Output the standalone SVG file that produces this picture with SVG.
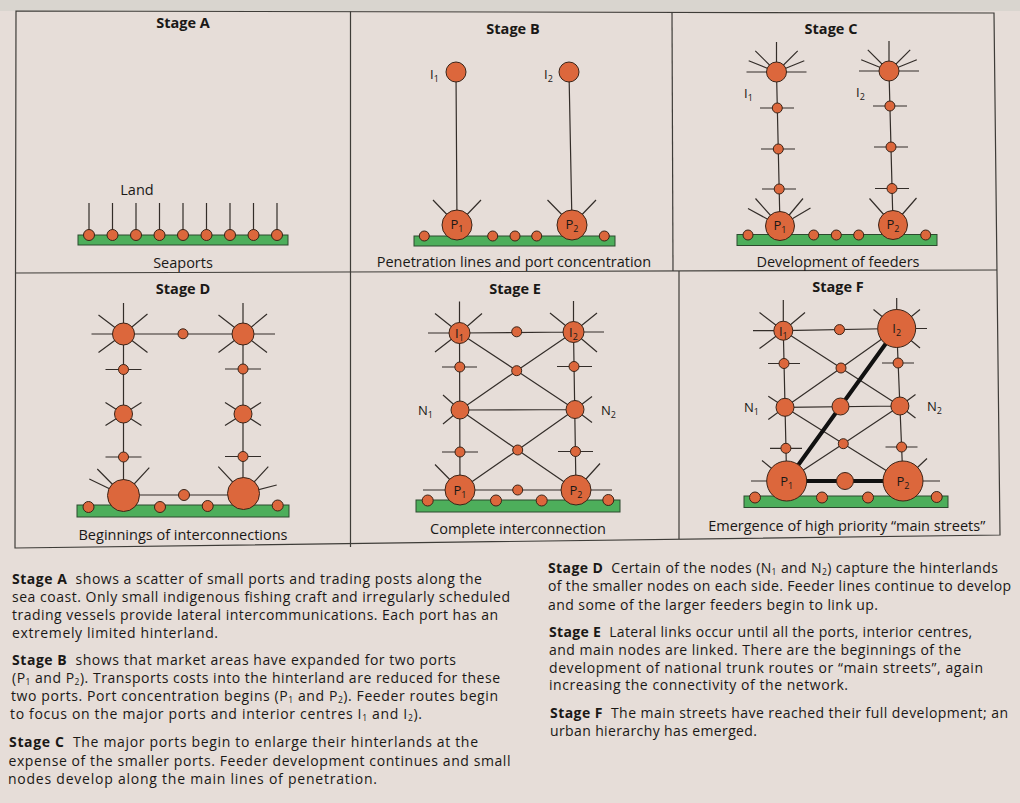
<svg xmlns="http://www.w3.org/2000/svg" width="1020" height="803" viewBox="0 0 1020 803">
<style>
.ln{stroke:#332d29;stroke-width:1.2;fill:none}
.fr{stroke:#3e3c38;stroke-width:1.2;fill:none}
.nd{fill:#dc673c;stroke:#3a2418;stroke-width:1}
.bar{fill:#4dae5b;stroke:#2c4a2e;stroke-width:1}
.main{stroke:#111;stroke-width:4;fill:none}
text{font-family:"Open Sans","Noto Sans","Liberation Sans",sans-serif;fill:#1a1816}
.ttl{font-size:14.5px;font-weight:bold;text-anchor:middle}
.cap{font-size:14.5px;text-anchor:middle}
.lbl{font-size:13px}
.in{font-size:13px;text-anchor:middle}
.sb{font-size:9px}
.ps{font-size:8.5px}
.p{font-size:14px}
.b{font-weight:bold}
</style>
<rect width="1020" height="803" fill="#e6ddd8"/>
<rect width="1020" height="11" fill="#d9d5cf"/>
<g id="frame">
<polygon points="16,11 994,13 1000,535 15,548" fill="#e4dec6" class="fr"/>
<line class="fr" x1="15" y1="273" x2="997" y2="270"/>
<line class="fr" x1="350.5" y1="11.5" x2="350.5" y2="547"/>
<line class="fr" x1="672" y1="12.5" x2="673" y2="271"/>
<line class="fr" x1="679" y1="271" x2="679" y2="539"/>
</g>

<g id="stageA">
<text class="ttl" x="183" y="28">Stage A</text>
<g id="A-connectors">
<path class="ln" d="M89,203V235 M112.5,203V235 M136,203V235 M159.5,203V235 M183,203V235 M206.5,203V235 M230,203V235 M253.5,203V235 M277,203V235"/>
</g>
<rect id="A-coast" class="bar" x="78" y="235" width="210" height="10"/>
<g id="A-nodes">
<circle class="nd" cx="89" cy="235" r="5.5"/><circle class="nd" cx="112.5" cy="235" r="5.5"/><circle class="nd" cx="136" cy="235" r="5.5"/><circle class="nd" cx="159.5" cy="235" r="5.5"/><circle class="nd" cx="183" cy="235" r="5.5"/><circle class="nd" cx="206.5" cy="235" r="5.5"/><circle class="nd" cx="230" cy="235" r="5.5"/><circle class="nd" cx="253.5" cy="235" r="5.5"/><circle class="nd" cx="277" cy="235" r="5.5"/>
</g>
<text class="cap" x="137" y="195">Land</text>
<text class="cap" x="183" y="268">Seaports</text>
</g>

<g id="stageB">
<text class="ttl" x="513" y="33.5">Stage B</text>
<g id="B-connectors">
<path class="ln" d="M456,72L457,225 M569,72L572,225 M457,225L433,200 M457,225L481,200 M572,225L547.5,200 M572,225L596,200"/>
</g>
<rect id="B-coast" class="bar" x="414" y="236" width="201" height="10"/>
<g id="B-nodes">
<circle id="B-I1" class="nd" cx="456" cy="72" r="10"/>
<circle id="B-I2" class="nd" cx="569" cy="72" r="10"/>
<circle class="nd" cx="424.3" cy="236" r="5"/><circle class="nd" cx="492.7" cy="236" r="5"/><circle class="nd" cx="515" cy="236" r="5"/><circle class="nd" cx="536.7" cy="236" r="5"/><circle class="nd" cx="604.3" cy="236" r="5"/>
<circle id="B-P1" class="nd" cx="457" cy="225" r="15"/>
<circle id="B-P2" class="nd" cx="572" cy="225" r="15"/>
</g>
<text class="lbl" x="430" y="79">I<tspan class="sb" dy="3">1</tspan></text>
<text class="lbl" x="544" y="79">I<tspan class="sb" dy="3">2</tspan></text>
<text class="in" x="457" y="229">P<tspan class="sb" dy="3">1</tspan></text>
<text class="in" x="572" y="229">P<tspan class="sb" dy="3">2</tspan></text>
<text class="cap" x="514" y="266.5">Penetration lines and port concentration</text>
</g>

<g id="stageC">
<text class="ttl" x="831" y="33.5">Stage C</text>
<g id="C-connectors">
<path class="ln" d="M746.5,72H806.5 M776.5,72L748.7,60.8 M776.5,72L755.3,50.8 M776.5,72V42 M776.5,72L797.7,50.8 M776.5,72L804.3,60.8
M859,71H919 M889,71L861.2,59.8 M889,71L867.8,49.8 M889,71V41 M889,71L910.2,49.8 M889,71L916.8,59.8
M776.5,72L780,226 M889,71L893,225
M760,108H794 M761,149H795 M762,189H796 M873,106H907 M874,147H908 M875,188.5H909
M780,226L748,208.5 M780,226L755.5,198.5 M780,226L803,198.5 M780,226L810.5,208
M893,225L869.5,198.5 M893,225L916.5,198"/>
</g>
<rect id="C-coast" class="bar" x="737" y="234.5" width="200" height="11"/>
<g id="C-nodes">
<circle id="C-I1" class="nd" cx="776.5" cy="72" r="10"/>
<circle id="C-I2" class="nd" cx="889" cy="71" r="10"/>
<circle class="nd" cx="777.3" cy="108" r="5"/><circle class="nd" cx="778.3" cy="149" r="5"/><circle class="nd" cx="779.2" cy="189" r="5"/>
<circle class="nd" cx="889.9" cy="106" r="5"/><circle class="nd" cx="891" cy="147" r="5"/><circle class="nd" cx="892" cy="188.5" r="5"/>
<circle class="nd" cx="748" cy="235" r="5"/><circle class="nd" cx="813.7" cy="235" r="5"/><circle class="nd" cx="836.3" cy="235" r="5"/><circle class="nd" cx="858.7" cy="235" r="5"/><circle class="nd" cx="925.7" cy="235" r="5"/>
<circle id="C-P1" class="nd" cx="780" cy="226" r="14.5"/>
<circle id="C-P2" class="nd" cx="893" cy="225" r="14.5"/>
</g>
<text class="lbl" x="744" y="98">I<tspan class="sb" dy="3">1</tspan></text>
<text class="lbl" x="856" y="97">I<tspan class="sb" dy="3">2</tspan></text>
<text class="in" x="780" y="230">P<tspan class="sb" dy="3">1</tspan></text>
<text class="in" x="893" y="229">P<tspan class="sb" dy="3">2</tspan></text>
<text class="cap" x="838" y="266.5">Development of feeders</text>
</g>

<g id="stageD">
<text class="ttl" x="183" y="293.5">Stage D</text>
<g id="D-connectors">
<path class="ln" d="M123.5,334V303 M123.5,334H91.5 M123.5,334L98.5,315 M123.5,334L147.5,314 M123.5,334L98.5,352.5 M123.5,334L147.5,352.5
M243,334V303 M243,334H275 M243,334L218.5,315 M243,334L267,314 M243,334L218.5,352.5 M243,334L267,352.5
M123.5,334H243 M123.5,334V495.5 M243,334V493.5
M105.5,402.5L141.5,425.5 M141.5,402.5L105.5,425.5 M225,402.5L261,425.5 M261,402.5L225,425.5
M105.5,369.5H141.5 M105.5,457H141.5 M225,369H261 M225,456.5H261
M123.5,495H243.5
M123.5,495.5L89.3,479 M123.5,495.5L97.3,469 M123.5,495.5L149.3,467.7
M243.5,493.5L218.3,466.7 M243.5,493.5L268.3,466.7 M243.5,493.5L276.7,485"/>
</g>
<rect id="D-coast" class="bar" x="77" y="505" width="212" height="12"/>
<g id="D-nodes">
<circle class="nd" cx="123.5" cy="334" r="11"/>
<circle class="nd" cx="243" cy="334" r="11"/>
<circle class="nd" cx="183" cy="333.8" r="5"/>
<circle class="nd" cx="123.5" cy="369.5" r="5"/><circle class="nd" cx="123.5" cy="414" r="9"/><circle class="nd" cx="123.5" cy="457" r="5"/>
<circle class="nd" cx="243" cy="369" r="5"/><circle class="nd" cx="243" cy="414" r="9"/><circle class="nd" cx="243" cy="456.5" r="5"/>
<circle class="nd" cx="88.5" cy="507" r="5.5"/><circle class="nd" cx="160" cy="507" r="5.5"/><circle class="nd" cx="207.7" cy="506" r="5.5"/><circle class="nd" cx="277.7" cy="505.5" r="5.5"/>
<circle class="nd" cx="184" cy="495" r="5.5"/>
<circle class="nd" cx="123.5" cy="495.5" r="16"/>
<circle class="nd" cx="243.5" cy="493.5" r="16"/>
</g>
<text class="cap" x="183" y="540">Beginnings of interconnections</text>
</g>

<g id="stageE">
<text class="ttl" x="515" y="293.5">Stage E</text>
<g id="E-connectors">
<path class="ln" d="M459.5,333V301.5 M459.5,333H428 M459.5,333L435,313.5 M459.5,333L482,313.5 M459.5,333L435,352
M573.5,332V301 M573.5,332L550,313 M573.5,332L597,313 M573.5,332H604 M573.5,332L597,352
M459.5,333L573.5,332 M459.5,333L460,490 M573.5,332L576,490
M442,367H477 M442,452H478 M557,366.5H592 M558,451.5H593
M460,410L443,395 M460,410L443,424 M575,409.5L592,396.5 M575,409.5L592,422.5
M460,410L575,409.5
M459.5,333L516.7,370.7L575,409.5 M573.5,332L516.7,370.7L460,410 M460,410L517.7,450L576,490 M575,409.5L517.7,450L460,490
M460,490L435,464.5 M460,490H423 M576,490L600,463.5 M576,490H612 M460,490H576"/>
</g>
<rect id="E-coast" class="bar" x="416" y="500" width="204" height="12"/>
<g id="E-nodes">
<circle class="nd" cx="516.7" cy="331.8" r="5"/>
<circle class="nd" cx="516.7" cy="370.7" r="5"/>
<circle class="nd" cx="459.8" cy="367" r="5"/><circle class="nd" cx="574" cy="366.5" r="5"/>
<circle class="nd" cx="517.7" cy="450" r="5"/>
<circle class="nd" cx="460" cy="452" r="5"/><circle class="nd" cx="575.5" cy="451.5" r="5"/>
<circle class="nd" cx="517.7" cy="490" r="5"/>
<circle class="nd" cx="427.7" cy="500.5" r="5.5"/><circle class="nd" cx="496" cy="500.5" r="5.5"/><circle class="nd" cx="541.7" cy="500.5" r="5.5"/><circle class="nd" cx="608.3" cy="500" r="5.5"/>
<circle id="E-I1" class="nd" cx="459.5" cy="333" r="10.5"/>
<circle id="E-I2" class="nd" cx="573.5" cy="332" r="10.5"/>
<circle id="E-N1" class="nd" cx="460" cy="410" r="9"/>
<circle id="E-N2" class="nd" cx="575" cy="409.5" r="9"/>
<circle id="E-P1" class="nd" cx="460" cy="490" r="15"/>
<circle id="E-P2" class="nd" cx="576" cy="490" r="15"/>
</g>
<text class="in" x="459.5" y="337.5">I<tspan class="sb" dy="3">1</tspan></text>
<text class="in" x="573.5" y="336.5">I<tspan class="sb" dy="3">2</tspan></text>
<text class="lbl" x="418" y="414.5">N<tspan class="sb" dy="3">1</tspan></text>
<text class="lbl" x="601" y="414.5">N<tspan class="sb" dy="3">2</tspan></text>
<text class="in" x="460" y="494.5">P<tspan class="sb" dy="3">1</tspan></text>
<text class="in" x="576" y="494.5">P<tspan class="sb" dy="3">2</tspan></text>
<text class="cap" x="518" y="533.5">Complete interconnection</text>
</g>

<g id="stageF">
<text class="ttl" x="838" y="291.5">Stage F</text>
<g id="F-connectors">
<path class="ln" d="M783.3,330.7V300 M783.3,330.7L759.5,312.5 M783.3,330.7L805,312.5 M783.3,330.7H753 M783.3,330.7L759.5,348.5
M896.7,328.5V298 M896.7,328.5L873.5,309.5 M896.7,328.5L920,309.5 M896.7,328.5H927 M896.7,328.5L920,348
M783.3,330.7L896.7,328.5 M783.3,330.7L786.7,481 M896.7,328.5L903,481
M768,363.5H800 M770,448.3H802 M882,363H914 M885.5,447H917.5
M785,407.3L768.3,396.3 M785,407.3L768.3,419.5 M899.9,406L915.5,394.5 M899.9,406L915.5,418
M785,407.3L899.9,406
M783.3,330.7L841,368L899.9,406 M896.7,328.5L841,368L785,407.3 M785,407.3L843.3,443.7L903,481 M899.9,406L843.3,443.7L786.7,481
M786.7,481L762,460.5 M786.7,481H751 M903,481L927,458.5 M903,481H940"/>
<path class="main" d="M786.7,481L896.7,328.5 M786.7,481H903"/>
</g>
<rect id="F-coast" class="bar" x="744" y="496" width="204" height="11.5"/>
<g id="F-nodes">
<circle class="nd" cx="839.5" cy="329.6" r="5"/>
<circle class="nd" cx="841" cy="368" r="5"/>
<circle class="nd" cx="784" cy="363.5" r="5"/><circle class="nd" cx="898.1" cy="363" r="5"/>
<circle class="nd" cx="843.3" cy="443.7" r="5"/>
<circle class="nd" cx="785.9" cy="448.3" r="5"/><circle class="nd" cx="901.6" cy="447" r="5"/>
<circle class="nd" cx="755" cy="497.5" r="5.5"/><circle class="nd" cx="822" cy="497.5" r="5.5"/><circle class="nd" cx="868" cy="497.5" r="5.5"/><circle class="nd" cx="936.7" cy="497" r="5.5"/>
<circle id="F-M" class="nd" cx="840.5" cy="406.5" r="8.5"/>
<circle id="F-PM" class="nd" cx="845" cy="481" r="8.5"/>
<circle id="F-I1" class="nd" cx="783.3" cy="330.7" r="9.5"/>
<circle id="F-I2" class="nd" cx="896.7" cy="328.5" r="19"/>
<circle id="F-N1" class="nd" cx="785" cy="407.3" r="9"/>
<circle id="F-N2" class="nd" cx="899.9" cy="406" r="9"/>
<circle id="F-P1" class="nd" cx="786.7" cy="481" r="20"/>
<circle id="F-P2" class="nd" cx="903" cy="481" r="20"/>
</g>
<text class="in" x="783.3" y="335.5">I<tspan class="sb" dy="3">1</tspan></text>
<text class="in" x="896.7" y="333">I<tspan class="sb" dy="3">2</tspan></text>
<text class="lbl" x="744" y="412">N<tspan class="sb" dy="3">1</tspan></text>
<text class="lbl" x="927" y="411">N<tspan class="sb" dy="3">2</tspan></text>
<text class="in" x="786.7" y="485.5">P<tspan class="sb" dy="3">1</tspan></text>
<text class="in" x="903" y="485.5">P<tspan class="sb" dy="3">2</tspan></text>
<text class="cap" x="846.7" y="530.5">Emergence of high priority “main streets”</text>
</g>

<g id="text-left">
<text class="p" x="12" y="584" textLength="470"><tspan class="b">Stage A</tspan><tspan dx="4"> shows a scatter of small ports and trading posts along the</tspan></text>
<text class="p" x="12" y="602" textLength="498">sea coast. Only small indigenous fishing craft and irregularly scheduled</text>
<text class="p" x="12" y="620" textLength="486">trading vessels provide lateral intercommunications. Each port has an</text>
<text class="p" x="12" y="638" textLength="206">extremely limited hinterland.</text>
<text class="p" x="12" y="665" textLength="444"><tspan class="b">Stage B</tspan><tspan dx="4"> shows that market areas have expanded for two ports</tspan></text>
<text class="p" x="12" y="683" textLength="488">(P<tspan class="ps" dy="2">1</tspan><tspan dy="-2"> and P</tspan><tspan class="ps" dy="2">2</tspan><tspan dy="-2">). Transports costs into the hinterland are reduced for these</tspan></text>
<text class="p" x="11" y="701" textLength="487">two ports. Port concentration begins (P<tspan class="ps" dy="2">1</tspan><tspan dy="-2"> and P</tspan><tspan class="ps" dy="2">2</tspan><tspan dy="-2">). Feeder routes begin</tspan></text>
<text class="p" x="10" y="719" textLength="412">to focus on the major ports and interior centres I<tspan class="ps" dy="2">1</tspan><tspan dy="-2"> and I</tspan><tspan class="ps" dy="2">2</tspan><tspan dy="-2">).</tspan></text>
<text class="p" x="9" y="747" textLength="469"><tspan class="b">Stage C</tspan><tspan dx="4"> The major ports begin to enlarge their hinterlands at the</tspan></text>
<text class="p" x="8.5" y="765.5" textLength="502">expense of the smaller ports. Feeder development continues and small</text>
<text class="p" x="8" y="784" textLength="369">nodes develop along the main lines of penetration.</text>
</g>

<g id="text-right">
<text class="p" x="548" y="573" textLength="450"><tspan class="b">Stage D</tspan><tspan dx="4"> Certain of the nodes (N</tspan><tspan class="ps" dy="2">1</tspan><tspan dy="-2"> and N</tspan><tspan class="ps" dy="2">2</tspan><tspan dy="-2">) capture the hinterlands</tspan></text>
<text class="p" x="548" y="591" textLength="463">of the smaller nodes on each side. Feeder lines continue to develop</text>
<text class="p" x="548" y="610" textLength="330">and some of the larger feeders begin to link up.</text>
<text class="p" x="549" y="637" textLength="423"><tspan class="b">Stage E</tspan><tspan dx="4"> Lateral links occur until all the ports, interior centres,</tspan></text>
<text class="p" x="549" y="654.5" textLength="412">and main nodes are linked. There are the beginnings of the</text>
<text class="p" x="549" y="672.5" textLength="434">development of national trunk routes or “main streets”, again</text>
<text class="p" x="549" y="690" textLength="299">increasing the connectivity of the network.</text>
<text class="p" x="550" y="718" textLength="458"><tspan class="b">Stage F</tspan><tspan dx="4"> The main streets have reached their full development; an</tspan></text>
<text class="p" x="550" y="735.5" textLength="207">urban hierarchy has emerged.</text>
</g>
</svg>
